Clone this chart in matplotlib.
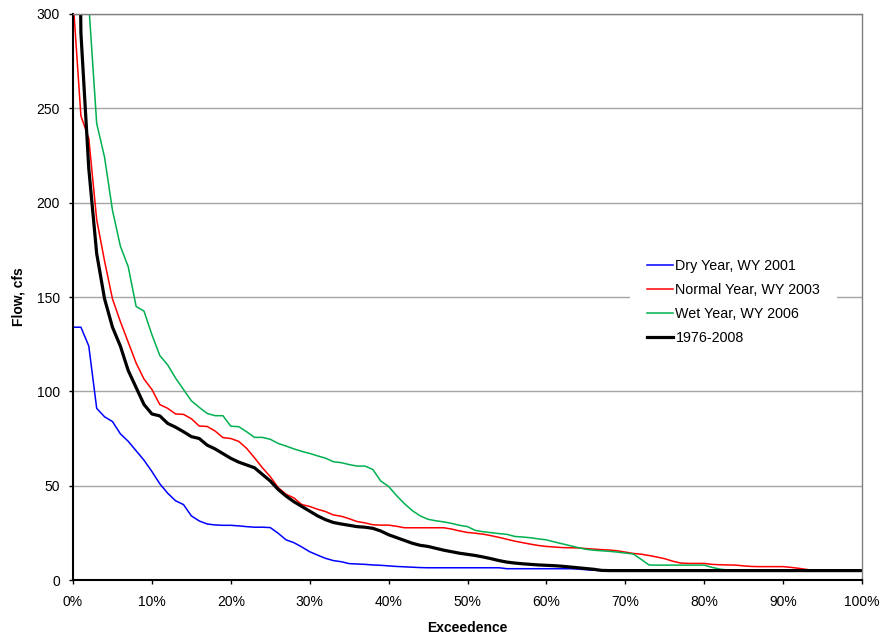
import matplotlib.pyplot as plt
import numpy as np
from matplotlib.ticker import PercentFormatter

plt.rcParams['font.family'] = ['Liberation Sans', 'DejaVu Sans']

# exceedence in percent, one value per 1 %
exceed = np.arange(0, 101)

dry_2001 = [134, 134, 124, 91, 86.5, 84, 77.5, 73.5, 68.5, 63.5,
            57.5, 51, 46, 42, 40, 34, 31.3, 29.7, 29.2, 29,
            29, 28.7, 28.3, 28, 28, 27.8, 24.8, 21.3, 19.8, 17.5,
            15, 13.2, 11.5, 10.3, 9.7, 8.7, 8.5, 8.3, 8, 7.8,
            7.5, 7.2, 7, 6.8, 6.6, 6.5, 6.5, 6.5, 6.5, 6.5,
            6.5, 6.5, 6.5, 6.5, 6.5, 6, 6, 6, 6, 6,
            6, 6, 6, 6, 5.8, 5.5, 5.2, 5, 5, 5,
            5, 5, 5, 5, 5, 5, 5, 5, 5, 5,
            5, 5, 5, 5, 5, 5, 5, 5, 5, 5,
            5, 5, 5, 5, 5, 5, 5, 5, 5, 5, 5]

normal_2003 = [308, 246, 234, 191, 169, 149, 137, 126, 115, 106.5,
               101, 93, 91, 88, 87.8, 85.5, 81.6, 81.4, 79, 75.5,
               75, 73.5, 69.8, 64.8, 59.5, 54.8, 49, 45.5, 43.5, 40,
               39, 37.5, 36.3, 34.5, 33.8, 32.5, 31, 30.3, 29.3, 29.1,
               29.1, 28.5, 27.7, 27.7, 27.7, 27.7, 27.7, 27.7, 27, 26,
               25.2, 24.8, 24.3, 23.5, 22.6, 21.6, 20.6, 19.8, 19, 18.3,
               17.8, 17.5, 17.2, 17.1, 17, 16.7, 16.4, 16.1, 15.9, 15.5,
               14.8, 14.1, 13.7, 13, 12.2, 11.3, 10, 9, 8.8, 8.8,
               8.8, 8.3, 8.1, 8, 7.9, 7.5, 7.2, 7.1, 7.1, 7.1,
               7.1, 6.7, 6.2, 5.6, 5, 5, 5, 5, 5, 5, 5]

wet_2006 = [700, 450, 305, 242, 224, 196, 177, 166, 145, 142.5,
            130, 119, 114, 107, 101, 95, 91.5, 88.3, 87.1, 87.1,
            81.5, 81.3, 78.6, 75.6, 75.6, 74.6, 72.4, 71, 69.5, 68.2,
            67.1, 65.8, 64.6, 62.7, 62.2, 61.2, 60.4, 60.4, 58.6, 52.5,
            49.6, 44.8, 40.5, 36.8, 34, 32.2, 31.4, 30.8, 30, 29,
            28.3, 26.3, 25.6, 25.1, 24.6, 24.2, 23.1, 22.8, 22.4, 21.8,
            21.3, 20.2, 19.2, 18.2, 17.2, 16.3, 15.8, 15.5, 15.2, 14.8,
            14.3, 13.8, 11, 8, 7.9, 7.9, 7.9, 7.9, 7.9, 7.9,
            7.9, 6.7, 5.8, 5.3, 5, 5, 5, 5, 5, 5,
            5, 5, 5, 5, 5, 5, 5, 5, 5, 5, 5]

period_1976_2008 = [650, 290, 218, 173, 149, 134, 124, 111, 102, 93,
                    88, 87, 83, 81, 78.6, 76, 75, 71.5, 69.5, 67,
                    64.5, 62.5, 61, 59.5, 56, 52.5, 48, 44.5, 41.5, 39,
                    36.5, 34, 32, 30.5, 29.7, 29, 28.3, 28, 27.4, 26,
                    24, 22.5, 21, 19.5, 18.4, 17.8, 16.8, 15.8, 15, 14.2,
                    13.6, 13, 12.2, 11.3, 10.3, 9.5, 9, 8.6, 8.3, 8,
                    7.8, 7.6, 7.3, 6.9, 6.5, 6.1, 5.7, 5.1, 5, 5,
                    5, 5, 5, 5, 5, 5, 5, 5, 5, 5,
                    5, 5, 5, 5, 5, 5, 5, 5, 5, 5,
                    5, 5, 5, 5, 5, 5, 5, 5, 5, 5, 5]

series = [
    ("Dry Year, WY 2001", dry_2001, "#0000ff", 1.1),
    ("Normal Year, WY 2003", normal_2003, "#ff0000", 1.1),
    ("Wet Year, WY 2006", wet_2006, "#00b050", 1.1),
    ("1976-2008", period_1976_2008, "#000000", 2.3),
]

fig = plt.figure(figsize=(8.84, 6.36), dpi=100)
ax = fig.add_axes([0.0826, 0.088, 0.8925, 0.890])

for label, vals, col, lw in series:
    ax.plot(exceed, vals, color=col, lw=lw, label=label)

ax.set_xlim(0, 100)
ax.set_ylim(0, 300)
ax.set_xticks(np.arange(0, 101, 10))
ax.set_yticks(np.arange(0, 301, 50))
ax.xaxis.set_major_formatter(PercentFormatter(decimals=0))
ax.yaxis.grid(True, color="#a6a6a6", lw=1.0)
ax.set_axisbelow(True)

for side in ("left", "bottom"):
    ax.spines[side].set_color("black")
    ax.spines[side].set_linewidth(1.5)
for side in ("top", "right"):
    ax.spines[side].set_color("#808080")
    ax.spines[side].set_linewidth(1.0)

ax.tick_params(direction="out", length=3, width=1, labelsize=10)
ax.tick_params(axis="x", pad=8)
ax.tick_params(axis="y", pad=6.5)
ax.set_xlabel("Exceedence", fontsize=10, fontweight="bold")
ax.set_ylabel("Flow, cfs", fontsize=10, fontweight="bold")
ax.xaxis.set_label_coords(0.5, -0.073)
ax.yaxis.set_label_coords(-0.06, 0.5)

leg = ax.legend(loc="upper left", bbox_to_anchor=(0.706, 0.598), fontsize=10.3,
                frameon=True, fancybox=False, framealpha=1, edgecolor="none",
                facecolor="white", handlelength=1.82, handletextpad=0.15,
                labelspacing=0.7, borderpad=1.2, borderaxespad=0)

fig.savefig("out.png", dpi=100)
